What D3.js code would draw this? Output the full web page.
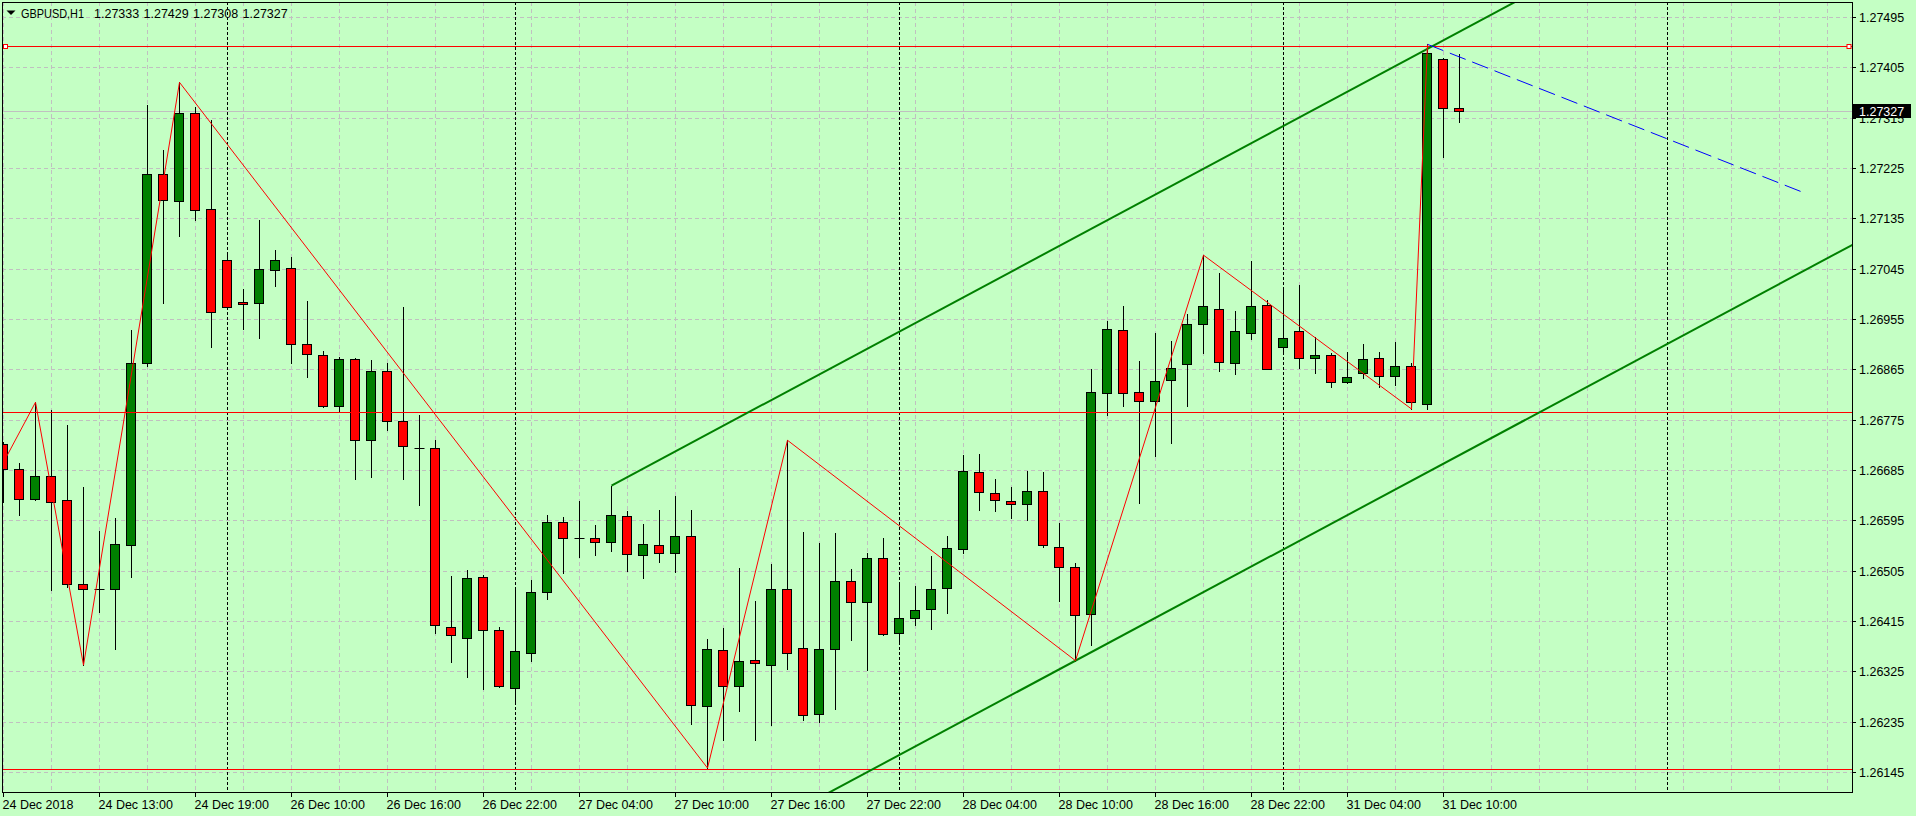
<!DOCTYPE html>
<html>
<head>
<meta charset="utf-8">
<script src="https://cdn.jsdelivr.net/npm/d3@7"></script>
<style>
    html, body { margin: 0; padding: 0; background: #c4ffc4; overflow: hidden; }
    svg text { font-family: "Liberation Sans", Arial, sans-serif; font-size: 12.5px; fill: #000; }
</style>
</head>
<body>
<div id="chart"></div>
<script>
// GBPUSD H1 bars (bar 0 = first visible bar)
var opens = [1.26733, 1.26687, 1.26634, 1.26675, 1.26632, 1.26482, 1.26474, 1.26474, 1.26552, 1.26878,
    1.27215, 1.27167, 1.27325, 1.27152, 1.27061, 1.26987, 1.26985, 1.27044, 1.27047, 1.26912,
    1.26892, 1.26801, 1.26885, 1.26739, 1.26863, 1.26774, 1.26726, 1.26726, 1.26405, 1.26386,
    1.26495, 1.26400, 1.26296, 1.26359, 1.26468, 1.26593, 1.26565, 1.26565, 1.26557, 1.26604,
    1.26534, 1.26552, 1.26538, 1.26568, 1.26264, 1.26364, 1.26299, 1.26346, 1.26338, 1.26473,
    1.26368, 1.26250, 1.26366, 1.26488, 1.26450, 1.26529, 1.26395, 1.26421, 1.26438, 1.26475,
    1.26545, 1.26683, 1.26645, 1.26631, 1.26625, 1.26649, 1.26549, 1.26513, 1.26429, 1.26824,
    1.26937, 1.26826, 1.26810, 1.26847, 1.26876, 1.26947, 1.26974, 1.26878, 1.26931, 1.26981,
    1.26906, 1.26935, 1.26887, 1.26892, 1.26844, 1.26860, 1.26887, 1.26854, 1.26872, 1.26804,
    1.27421, 1.27333]
var highs = [1.26736, 1.26699, 1.26807, 1.26793, 1.26767, 1.26656, 1.26577, 1.26600, 1.26936, 1.27339,
    1.27258, 1.27379, 1.27335, 1.27312, 1.27070, 1.27010, 1.27133, 1.27080, 1.27066, 1.26988,
    1.26898, 1.26888, 1.26886, 1.26883, 1.26878, 1.26978, 1.26785, 1.26740, 1.26496, 1.26507,
    1.26499, 1.26406, 1.26472, 1.26490, 1.26606, 1.26601, 1.26630, 1.26587, 1.26658, 1.26612,
    1.26590, 1.26615, 1.26640, 1.26615, 1.26383, 1.26403, 1.26511, 1.26452, 1.26517, 1.26739,
    1.26575, 1.26556, 1.26574, 1.26508, 1.26538, 1.26565, 1.26483, 1.26478, 1.26533, 1.26567,
    1.26712, 1.26715, 1.26669, 1.26656, 1.26684, 1.26683, 1.26592, 1.26520, 1.26866, 1.26953,
    1.26980, 1.26880, 1.26931, 1.26917, 1.26965, 1.27070, 1.27039, 1.26971, 1.27059, 1.26990,
    1.27007, 1.27016, 1.26924, 1.26895, 1.26896, 1.26912, 1.26896, 1.26914, 1.26878, 1.27447,
    1.27422, 1.27429]
var lows = [1.26628, 1.26605, 1.26633, 1.26471, 1.26477, 1.26337, 1.26432, 1.26366, 1.26494, 1.26871,
    1.26985, 1.27104, 1.27133, 1.26906, 1.26977, 1.26938, 1.26922, 1.27015, 1.26878, 1.26852,
    1.26799, 1.26791, 1.26669, 1.26673, 1.26758, 1.26669, 1.26623, 1.26394, 1.26342, 1.26316,
    1.26294, 1.26297, 1.26272, 1.26344, 1.26455, 1.26501, 1.26530, 1.26534, 1.26541, 1.26505,
    1.26492, 1.26521, 1.26503, 1.26232, 1.26153, 1.26204, 1.26255, 1.26203, 1.26230, 1.26330,
    1.26238, 1.26235, 1.26258, 1.26382, 1.26328, 1.26390, 1.26380, 1.26408, 1.26401, 1.26430,
    1.26537, 1.26614, 1.26612, 1.26600, 1.26596, 1.26548, 1.26451, 1.26345, 1.26373, 1.26785,
    1.26800, 1.26627, 1.26711, 1.26735, 1.26800, 1.26895, 1.26863, 1.26857, 1.26921, 1.26866,
    1.26894, 1.26868, 1.26859, 1.26834, 1.26841, 1.26850, 1.26834, 1.26837, 1.26795, 1.26795,
    1.27245, 1.27308]
var closes = [1.26687, 1.26634, 1.26675, 1.26629, 1.26482, 1.26474, 1.26474, 1.26554, 1.26877, 1.27215,
    1.27168, 1.27325, 1.27150, 1.26969, 1.26978, 1.26982, 1.27045, 1.27061, 1.26912, 1.26894,
    1.26801, 1.26885, 1.26740, 1.26863, 1.26774, 1.26728, 1.26726, 1.26409, 1.26390, 1.26493,
    1.26400, 1.26299, 1.26363, 1.26468, 1.26593, 1.26564, 1.26565, 1.26557, 1.26606, 1.26536,
    1.26554, 1.26538, 1.26568, 1.26266, 1.26366, 1.26299, 1.26345, 1.26341, 1.26473, 1.26359,
    1.26248, 1.26366, 1.26488, 1.26450, 1.26529, 1.26392, 1.26422, 1.26436, 1.26473, 1.26547,
    1.26684, 1.26647, 1.26633, 1.26625, 1.26649, 1.26552, 1.26513, 1.26427, 1.26826, 1.26938,
    1.26824, 1.26810, 1.26845, 1.26869, 1.26947, 1.26980, 1.26879, 1.26935, 1.26980, 1.26867,
    1.26922, 1.26887, 1.26892, 1.26844, 1.26853, 1.26885, 1.26854, 1.26872, 1.26808, 1.27432,
    1.27334, 1.27327]

var priceTicks = ["1.26145", "1.26235", "1.26325", "1.26415", "1.26505", "1.26595", "1.26685", "1.26775",
    "1.26865", "1.26955", "1.27045", "1.27135", "1.27225", "1.27315", "1.27405", "1.27495"]
var timeLabels = [[0, "24 Dec 2018"], [6, "24 Dec 13:00"], [12, "24 Dec 19:00"], [18, "26 Dec 10:00"],
    [24, "26 Dec 16:00"], [30, "26 Dec 22:00"], [36, "27 Dec 04:00"], [42, "27 Dec 10:00"],
    [48, "27 Dec 16:00"], [54, "27 Dec 22:00"], [60, "28 Dec 04:00"], [66, "28 Dec 10:00"],
    [72, "28 Dec 16:00"], [78, "28 Dec 22:00"], [84, "31 Dec 04:00"], [90, "31 Dec 10:00"]]
var daySeparators = [14, 32, 56, 80, 104]

// objects on the chart: [bar, price]
var zigzag = [[-1, 1.26646], [2, 1.26807], [5, 1.26337], [11, 1.27379], [44, 1.26153], [49, 1.26739],
    [67, 1.26345], [75, 1.27070], [88, 1.26795], [89, 1.27447]]
var levels = [1.27443, 1.26788, 1.26150]
var channelUpper = [[38, 1.26658], [89, 1.27439]]
var channelLower = [67, 1.26345]
var forecast = [[89, 1.27447], [112.5, 1.27182]]
var bid = 1.27327
var title = "GBPUSD,H1"
var titleValues = ["1.27333", "1.27429", "1.27308", "1.27327"]

var width = 1916, height = 816
// plot frame (note: "top" is taken by window.top)
var pLeft = 2, pRight = 1852, pTop = 2, pBottom = 792

var x = d3.scaleLinear().domain([0, 1]).range([3.5, 19.5])
var y = d3.scaleLinear().domain([1.26145, 1.27495]).range([772.5, 17.5])
function snap(v){ return Math.round(v - 0.5) + 0.5 }

var svg = d3.select("#chart").append("svg").attr("width", width).attr("height", height)
svg.append("rect").attr("width", width).attr("height", height).attr("fill", "#c4ffc4")
svg.append("defs").append("clipPath").attr("id", "plotclip").append("rect")
    .attr("x", pLeft + 1).attr("y", pTop + 1).attr("width", pRight - pLeft - 1).attr("height", pBottom - pTop - 1)

var plot = svg.append("g").attr("clip-path", "url(#plotclip)")

// grid
var vgrid = d3.range(0, 115, 3)
plot.selectAll(".vgrid").data(vgrid).enter().append("line")
    .attr("x1", d => x(d)).attr("x2", d => x(d)).attr("y1", pTop).attr("y2", pBottom)
    .attr("stroke", "#c0c0c0").attr("stroke-dasharray", "4,3")
plot.selectAll(".hgrid").data(priceTicks).enter().append("line")
    .attr("x1", pLeft).attr("x2", pRight).attr("y1", d => snap(y(+d))).attr("y2", d => snap(y(+d)))
    .attr("stroke", "#c0c0c0").attr("stroke-dasharray", "4,3")
plot.selectAll(".sep").data(daySeparators).enter().append("line")
    .attr("x1", d => x(d)).attr("x2", d => x(d)).attr("y1", pTop).attr("y2", pBottom)
    .attr("stroke", "#000").attr("stroke-dasharray", "3,2")
plot.append("line").attr("x1", pLeft).attr("x2", pRight).attr("y1", snap(y(bid))).attr("y2", snap(y(bid)))
    .attr("stroke", "#c0c0c0")

// candles
var bars = d3.range(opens.length).map(function(i){
    return {i: i, o: opens[i], h: highs[i], l: lows[i], c: closes[i]}
})
var candle = plot.selectAll(".bar").data(bars).enter().append("g")
candle.append("line")
    .attr("x1", d => x(d.i)).attr("x2", d => x(d.i))
    .attr("y1", d => Math.round(y(d.h))).attr("y2", d => Math.round(y(d.l)) + 1)
    .attr("stroke", "#000")
candle.each(function(d){
    var g = d3.select(this)
    var yt = Math.round(y(Math.max(d.o, d.c))), yb = Math.round(y(Math.min(d.o, d.c)))
    if (d.o === d.c || yb - yt < 1){
        g.append("line").attr("x1", x(d.i) - 5).attr("x2", x(d.i) + 5)
            .attr("y1", yt + 0.5).attr("y2", yt + 0.5).attr("stroke", "#000")
        return
    }
    g.append("rect")
        .attr("x", x(d.i) - 5).attr("width", 9)
        .attr("y", yt + 0.5).attr("height", yb - yt)
        .attr("fill", d.c > d.o ? "#008000" : "#ff0000")
        .attr("stroke", "#000")
})

// horizontal levels
plot.selectAll(".level").data(levels).enter().append("line")
    .attr("x1", pLeft).attr("x2", pRight).attr("y1", d => snap(y(d))).attr("y2", d => snap(y(d)))
    .attr("stroke", "#ff0000")
var sq = [x(0) + 2, pRight - 3]
plot.selectAll(".handle").data(sq).enter().append("rect")
    .attr("x", d => d - 2).attr("y", snap(y(levels[0])) - 2).attr("width", 4).attr("height", 4)
    .attr("fill", "#fff").attr("stroke", "#ff0000")

// equidistant channel
var slope = (channelUpper[1][1] - channelUpper[0][1]) / (channelUpper[1][0] - channelUpper[0][0])
var x0 = channelUpper[0][0], x1 = 200
var lowerBase = channelLower[1] + (x0 - channelLower[0]) * slope
var channel = [[x0, channelUpper[0][1]], [x0, lowerBase]]
plot.selectAll(".chan").data(channel).enter().append("line")
    .attr("x1", d => x(d[0])).attr("y1", d => y(d[1]))
    .attr("x2", d => x(x1)).attr("y2", d => y(d[1] + (x1 - d[0]) * slope))
    .attr("stroke", "#008000").attr("stroke-width", 2)

// zigzag
var line = d3.line().x(d => x(d[0])).y(d => y(d[1]))
plot.append("path").attr("d", line(zigzag)).attr("fill", "none").attr("stroke", "#ff0000").attr("stroke-width", 1)

// forecast line
plot.append("path").attr("d", line(forecast)).attr("fill", "none")
    .attr("stroke", "#0000ff").attr("stroke-width", 1).attr("stroke-dasharray", "17,7")

// frame
svg.append("rect").attr("x", pLeft + 0.5).attr("y", pTop + 0.5)
    .attr("width", pRight - pLeft).attr("height", pBottom - pTop)
    .attr("fill", "none").attr("stroke", "#000")

// price axis
var yAxis = svg.append("g")
yAxis.selectAll(".tick").data(priceTicks).enter().append("line")
    .attr("x1", pRight).attr("x2", pRight + 4).attr("y1", d => snap(y(+d))).attr("y2", d => snap(y(+d)))
    .attr("stroke", "#000")
yAxis.selectAll(".lbl").data(priceTicks).enter().append("text")
    .attr("x", pRight + 7).attr("y", d => y(+d) + 4.5).text(d => d)
yAxis.append("rect").attr("x", pRight + 1).attr("y", Math.round(y(bid)) - 7).attr("width", 58).attr("height", 14)
    .attr("fill", "#000")
yAxis.append("text").attr("x", pRight + 7).attr("y", y(bid) + 4.5).style("fill", "#fff").text(bid.toFixed(5))

// time axis
var xAxis = svg.append("g")
xAxis.selectAll(".tick").data(timeLabels).enter().append("line")
    .attr("x1", d => x(d[0])).attr("x2", d => x(d[0])).attr("y1", pBottom).attr("y2", pBottom + 5)
    .attr("stroke", "#000")
xAxis.selectAll(".lbl").data(timeLabels).enter().append("text")
    .attr("x", d => x(d[0]) - 1).attr("y", 808.5).text(d => d[1])

// header
svg.append("path").attr("d", "M6.5,10.5 L15.5,10.5 L11,15 Z").attr("fill", "#000")
svg.append("text").attr("x", 21).attr("y", 17.5).attr("textLength", 63).attr("lengthAdjust", "spacingAndGlyphs").text(title)
svg.selectAll(".tv").data(titleValues).enter().append("text")
    .attr("x", (d, i) => 94 + i * 49.5).attr("y", 17.5).text(d => d)
</script>
</body>
</html>
